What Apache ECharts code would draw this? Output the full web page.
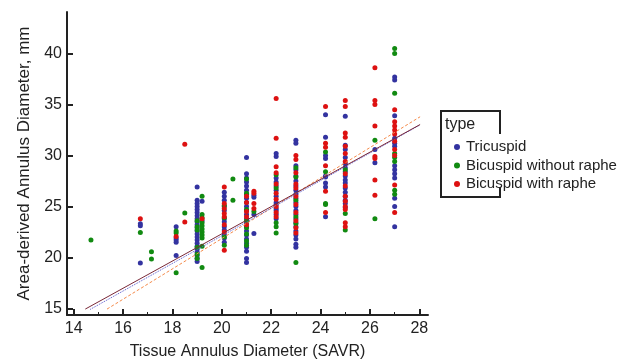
<!DOCTYPE html>
<html>
<head>
<meta charset="utf-8">
<script src="https://cdn.jsdelivr.net/npm/echarts@6/dist/echarts.min.js"></script>
<style>
  html, body { margin: 0; background: #fff; }
  #chart { width: 626px; height: 363px; }
</style>
</head>
<body>
<div id="chart"></div>
<script>
// values: [x column, [y values]]
const typeNames = ['Tricuspid', 'Bicuspid without raphe', 'Bicuspid with raphe'];
const xTicks = [14, 16, 18, 20, 22, 24, 26, 28];
const xMinorTicks = [15, 17, 19, 21, 23, 25, 27];
const yTicks = [15, 20, 25, 30, 35, 40];

const tricuspidCols = [
  [16.7, [23.3, 23.1, 19.45]],
  [18.15, [23.0, 21.9, 21.7, 21.5, 20.2]],
  [19.0, [26.9, 25.6, 25.3, 25.0, 24.7, 24.4, 24.1, 23.8, 23.5, 23.2, 22.9, 22.6, 22.3, 22.0, 21.7, 21.4, 21.1, 20.8, 20.5, 20.2, 19.9, 19.6]],
  [19.2, [25.5, 23.6]],
  [20.1, [26.4, 26.0, 25.6, 25.0, 24.6, 23.8, 23.5, 23.0, 22.7, 22.2, 21.9, 21.5]],
  [21.0, [29.8, 28.2, 27.8, 27.4, 27.0, 26.6, 26.2, 25.8, 25.4, 25.0, 24.6, 24.2, 23.8, 23.4, 23.0, 22.6, 22.2, 21.8, 21.4, 21.0, 20.6, 19.9, 19.5]],
  [21.3, [26.1, 25.9, 24.2, 22.35]],
  [22.2, [30.2, 29.9, 27.8, 27.4, 27.0, 26.6, 26.0, 25.4, 25.2, 24.8, 24.6, 24.2, 23.8]],
  [23.0, [31.5, 31.2, 29.0, 28.6, 28.0, 27.5, 27.0, 26.6, 26.2, 25.8, 25.4, 25.0, 24.6, 24.2, 23.8, 23.4, 23.0, 22.6, 22.2, 21.8, 21.3, 21.0]],
  [24.2, [34.0, 31.8, 30.0, 29.7, 28.0, 27.9, 27.3, 26.9, 24.0]],
  [25.0, [33.85, 31.0, 30.6, 29.8, 29.2, 28.8, 28.4, 28.0, 27.6, 27.3, 26.8, 26.4, 26.0, 25.6, 25.3, 24.9]],
  [26.2, [30.6, 29.3]],
  [27.0, [37.7, 37.4, 33.9, 31.7, 31.2, 30.9, 29.0, 28.6, 28.2, 27.8, 25.8, 25.0, 23.0]]
];

const noRapheCols = [
  [14.7, [21.7]],
  [16.7, [22.45]],
  [17.15, [20.56, 19.84]],
  [18.15, [22.6, 22.4, 18.5]],
  [18.5, [24.35]],
  [19.0, [23.6, 23.0, 22.7, 21.0, 20.3, 19.9]],
  [19.2, [26.0, 24.2, 23.9, 23.4, 23.1, 22.8, 22.5, 22.2, 21.9, 21.1, 19.0]],
  [20.1, [25.1, 23.9, 22.0, 21.2]],
  [20.45, [27.7, 25.6]],
  [21.0, [27.7, 26.3, 24.7, 23.6, 22.9, 22.3, 21.6, 21.2]],
  [21.3, [24.5]],
  [22.2, [28.1, 26.8, 23.4, 23.0, 22.4]],
  [23.0, [28.8, 27.9, 25.6, 24.0, 23.3, 19.5]],
  [24.2, [30.35, 28.4, 25.3, 25.2]],
  [25.0, [28.6, 24.3, 22.7]],
  [26.2, [31.5, 23.8]],
  [27.0, [40.5, 40.0, 36.1, 30.2, 29.8, 29.4, 26.6, 26.2]]
];

const withRapheCols = [
  [16.7, [23.8]],
  [18.15, [22.06]],
  [18.5, [31.1, 23.47]],
  [19.2, [23.8]],
  [20.1, [26.9, 25.3, 24.8, 24.3, 24.0, 23.2, 22.5, 20.7]],
  [21.0, [26.0, 25.4, 24.5, 24.0, 23.2]],
  [21.3, [26.5, 26.3, 25.3, 24.8]],
  [22.2, [35.6, 31.7, 28.9, 28.3, 27.2, 26.3, 25.7, 25.0, 24.4, 24.0]],
  [23.0, [30.0, 29.6, 28.3, 27.2, 26.8, 26.0, 25.2, 24.4, 23.6, 22.9, 22.4]],
  [24.2, [34.8, 31.2, 30.8, 29.0, 26.5, 24.4]],
  [25.0, [35.4, 34.8, 32.2, 31.8, 30.9, 30.2, 29.4, 28.2, 27.0, 26.0, 25.5, 25.0, 24.7, 23.4, 23.0]],
  [26.2, [38.6, 35.4, 35.0, 32.9, 29.9, 29.7, 27.6, 26.1]],
  [27.0, [34.5, 33.3, 32.9, 32.5, 32.1, 31.4, 30.6, 30.0, 27.1, 24.4]]
];

// fitted lines, end points
const fitSolid = [[14.47, 14.93], [28.03, 33.04]];
const fitDotted = [[14.67, 14.9], [28.03, 33.0]];
const fitDashed = [[15.35, 14.93], [28.03, 33.8]];

const toPoints = cols => cols.flatMap(([x, ys]) => ys.map(y => [x, y]));

const chart = echarts.init(document.getElementById('chart'));
const font = 'Liberation Sans, Arial, sans-serif';
const ink = '#222';

const axisBase = {
  axisLine: { show: true, lineStyle: { color: ink, width: 2 } },
  axisTick: { inside: true, length: 6, lineStyle: { color: ink, width: 2 } },
  axisLabel: { color: ink, fontSize: 16, fontFamily: font },
  splitLine: { show: false },
  nameTextStyle: { color: ink, fontSize: 16, fontFamily: font }
};

const option = {
  animation: false,
  backgroundColor: '#fff',
  grid: { left: 67, right: 198, top: 12, bottom: 48, outerBoundsMode: 'none' },
  xAxis: [
    {
      ...axisBase,
      type: 'value',
      min: 13.73,
      max: 28.35,
      name: 'Tissue Annulus Diameter (SAVR)',
      nameLocation: 'middle',
      nameGap: 29,
      axisTick: { ...axisBase.axisTick, customValues: xTicks },
      axisLabel: { ...axisBase.axisLabel, customValues: xTicks, margin: 6 }
    },
    {
      type: 'value',
      min: 13.73,
      max: 28.35,
      position: 'bottom',
      axisLine: { show: false },
      axisLabel: { show: false },
      splitLine: { show: false },
      axisTick: { inside: true, length: 3, lineStyle: { color: ink, width: 1 }, customValues: xMinorTicks }
    }
  ],
  yAxis: {
    ...axisBase,
    type: 'value',
    min: 14.35,
    max: 44.08,
    name: 'Area-derived Annulus Diameter, mm',
    nameLocation: 'middle',
    nameGap: 34,
    nameTextStyle: { ...axisBase.nameTextStyle, fontSize: 17 },
    axisTick: { ...axisBase.axisTick, customValues: yTicks },
    axisLabel: { ...axisBase.axisLabel, customValues: yTicks, margin: 5 }
  },
  legend: {
    data: typeNames,
    orient: 'vertical',
    left: 449,
    top: 134,
    icon: 'circle',
    itemWidth: 6,
    itemHeight: 6,
    itemGap: 2.5,
    textStyle: { color: ink, fontSize: 15, fontFamily: font, lineHeight: 16, padding: [0, 0, 0, 1] }
  },
  graphic: [
    { type: 'text', left: 445, top: 117, style: { text: 'type', font: '16px ' + font, fill: ink } },
    { type: 'polyline', shape: { points: [[500, 134], [500, 111], [441, 111], [441, 197], [500, 197], [500, 187]] },
      style: { stroke: ink, lineWidth: 2, fill: null } }
  ],
  series: [
    { name: typeNames[0], type: 'scatter', symbolSize: 5, itemStyle: { color: '#3333a0', opacity: 1 }, data: toPoints(tricuspidCols) },
    { name: typeNames[1], type: 'scatter', symbolSize: 5, itemStyle: { color: '#118a11', opacity: 1 }, data: toPoints(noRapheCols) },
    { name: typeNames[2], type: 'scatter', symbolSize: 5, itemStyle: { color: '#dd1111', opacity: 1 }, data: toPoints(withRapheCols) },
    { type: 'line', data: fitDashed, showSymbol: false, silent: true, z: 5,
      lineStyle: { color: '#f58a4a', width: 1, type: [3, 2] } },
    { type: 'line', data: fitDotted, showSymbol: false, silent: true, z: 5,
      lineStyle: { color: '#5555cc', width: 1, type: [1, 1] } },
    { type: 'line', data: fitSolid, showSymbol: false, silent: true, z: 6,
      lineStyle: { color: '#7a2838', width: 1 } }
  ]
};

chart.setOption(option);
</script>
</body>
</html>
